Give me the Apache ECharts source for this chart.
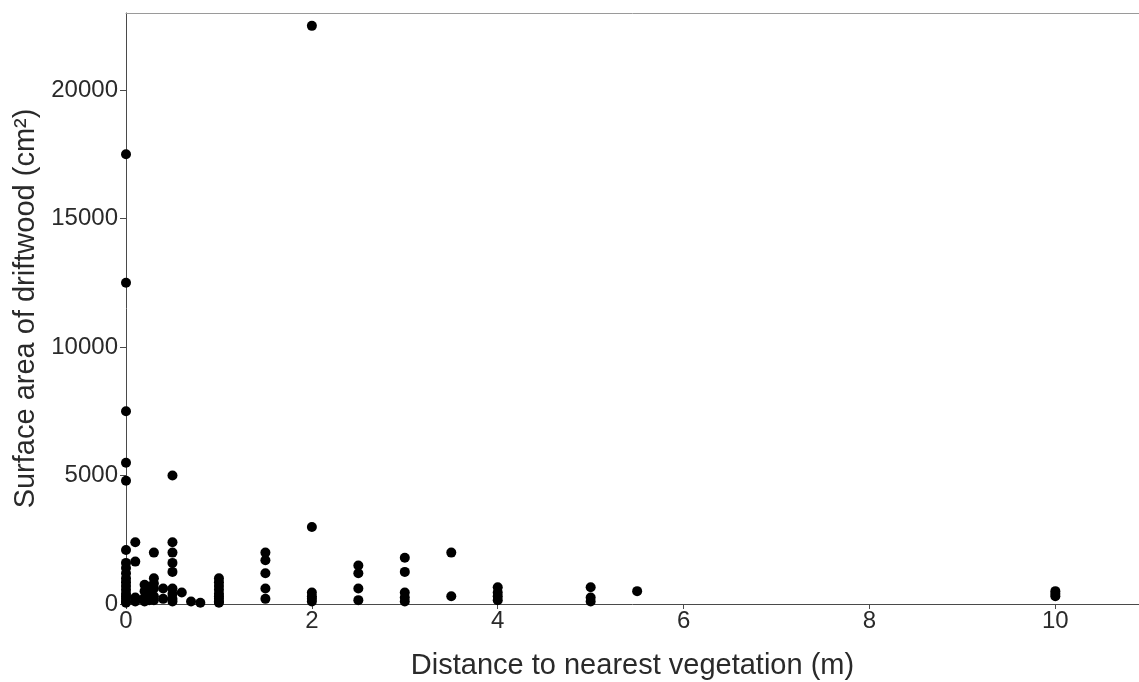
<!DOCTYPE html>
<html>
<head>
<meta charset="utf-8">
<script src="https://cdn.jsdelivr.net/npm/echarts@6/dist/echarts.min.js"></script>
<style>
  html, body { margin: 0; padding: 0; background: #fff; }
  #chart { width: 1139px; height: 682px; }
</style>
</head>
<body>
<div id="chart"></div>
<script>
// Distance to nearest vegetation (m) for each group of driftwood pieces
const distances = [0, 0.1, 0.2, 0.25, 0.3, 0.4, 0.5, 0.6, 0.7, 0.8, 1, 1.5, 2, 2.5, 3, 3.5, 4, 5, 5.5, 10];

// Surface areas (cm²) measured at each distance
const areasAt0    = [17500, 12500, 7500, 5500, 4800, 2100, 1600, 1400, 1200, 1000, 850, 700, 550, 400, 300, 200, 100, 50];
const areasAt0_1  = [2400, 1650, 250, 100];
const areasAt0_2  = [750, 500, 250, 100];
const areasAt0_25 = [650, 350, 150];
const areasAt0_3  = [2000, 1000, 800, 600, 300, 150];
const areasAt0_4  = [600, 200];
const areasAt0_5  = [5000, 2400, 2000, 1600, 1250, 600, 400, 200, 100];
const areasAt0_6  = [450];
const areasAt0_7  = [100];
const areasAt0_8  = [50];
const areasAt1    = [1000, 850, 700, 550, 400, 300, 200, 100, 50];
const areasAt1_5  = [2000, 1700, 1200, 600, 200];
const areasAt2    = [22500, 3000, 450, 300, 200, 100];
const areasAt2_5  = [1500, 1200, 600, 150];
const areasAt3    = [1800, 1250, 450, 250, 100];
const areasAt3_5  = [2000, 300];
const areasAt4    = [650, 450, 300, 150];
const areasAt5    = [650, 250, 100];
const areasAt5_5  = [500];
const areasAt10   = [500, 400, 300];

const areaGroups = [areasAt0, areasAt0_1, areasAt0_2, areasAt0_25, areasAt0_3, areasAt0_4,
  areasAt0_5, areasAt0_6, areasAt0_7, areasAt0_8, areasAt1, areasAt1_5, areasAt2, areasAt2_5,
  areasAt3, areasAt3_5, areasAt4, areasAt5, areasAt5_5, areasAt10];

const xTicks = [0, 2, 4, 6, 8, 10];
const yTicks = [0, 5000, 10000, 15000, 20000];

const points = [];
distances.forEach((d, i) => areaGroups[i].forEach(a => points.push([d, a])));

const textColor = '#2a2a2a';
const axisColor = '#4a4a4a';
const fontFamily = 'Liberation Sans, Arial, sans-serif';

const chart = echarts.init(document.getElementById('chart'), null, { renderer: 'canvas' });
chart.setOption({
  animation: false,
  backgroundColor: '#fff',
  grid: { left: 126, right: 0, top: 13, bottom: 78, containLabel: false, outerBoundsMode: 'none' },
  xAxis: [{
    type: 'value',
    min: 0, max: 10.9, interval: 2,
    name: 'Distance to nearest vegetation (m)',
    nameLocation: 'middle',
    nameGap: 47,
    nameTextStyle: { color: textColor, fontSize: 29, fontFamily },
    axisLine: { show: true, onZero: false, lineStyle: { color: axisColor, width: 1 } },
    axisTick: { show: true, length: 5, customValues: xTicks, lineStyle: { color: axisColor } },
    axisLabel: {
      color: textColor, fontSize: 24, fontFamily, margin: 5,
      customValues: xTicks,
      formatter: v => String(v)
    },
    splitLine: { show: false }
  }, {
    type: 'value',
    position: 'top',
    min: 0, max: 10.9,
    axisLine: { show: true, onZero: false, lineStyle: { color: '#9a9a9a', width: 1 } },
    axisTick: { show: false },
    axisLabel: { show: false },
    splitLine: { show: false }
  }],
  yAxis: {
    type: 'value',
    min: 0, max: 23000, interval: 5000,
    name: 'Surface area of driftwood (cm²)',
    nameLocation: 'middle',
    nameGap: 84,
    nameRotate: 90,
    nameTextStyle: { color: textColor, fontSize: 29, fontFamily },
    axisLine: { show: true, onZero: false, lineStyle: { color: axisColor, width: 1 } },
    axisTick: { show: true, length: 6, customValues: yTicks, lineStyle: { color: axisColor } },
    axisLabel: {
      color: textColor, fontSize: 24, fontFamily, margin: 8,
      customValues: yTicks,
      formatter: v => String(v)
    },
    splitLine: { show: false }
  },
  series: [{
    type: 'scatter',
    xAxisIndex: 0,
    data: points,
    symbol: 'circle',
    symbolSize: 10,
    itemStyle: { color: '#000', opacity: 1 },
    clip: false
  }]
});
</script>
</body>
</html>
